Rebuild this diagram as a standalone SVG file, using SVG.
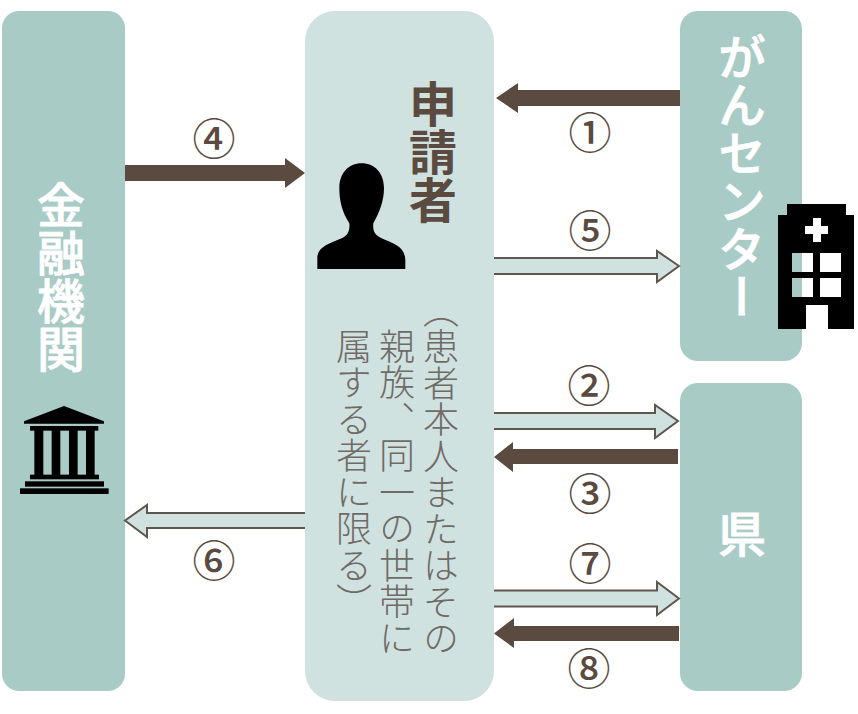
<svg xmlns="http://www.w3.org/2000/svg" width="858" height="714" viewBox="0 0 858 714">
<style>
.box{fill:#a9cbc6}
.pale{fill:#d0e2e0}
.solid{fill:#5a4a40}
.hollow{fill:#d0e2e0;stroke:#5f564f;stroke-width:2}
.t{font-family:"Noto Sans CJK JP","Noto Sans",sans-serif;writing-mode:vertical-rl}
.big{font-size:48px;font-weight:500;fill:#fff;stroke:#fff;stroke-width:.8px;text-anchor:start}
.sm{font-size:36px;font-weight:300;fill:#6f6a66;letter-spacing:.5px}
.n{font-family:"Noto Sans CJK JP",sans-serif;font-size:43px;font-weight:500;fill:#5a4a40;text-anchor:middle}
</style>
<rect width="858" height="714" fill="#fff"/>
<g id="kinyu">
<rect class="box" x="2" y="11" width="123" height="680" rx="17"/>
<text class="t big" x="61" y="181">金融機関</text>
<g transform="translate(0,390) scale(.3333)">
<path d="M192 48L312 94V101H72V94Z"/>
<rect x="90" y="108" width="205" height="14"/>
<rect x="103" y="120" width="27" height="136"/><rect x="155" y="120" width="26" height="136"/><rect x="207" y="120" width="26" height="136"/><rect x="258" y="120" width="26" height="136"/>
<rect x="90" y="254" width="207" height="14"/><rect x="75" y="274" width="237" height="16"/><rect x="60" y="295" width="266" height="17"/>
</g>
</g>
<g id="shinseisha">
<rect class="pale" x="305" y="11" width="189" height="690" rx="30"/>
<text class="t big" x="433" y="80" style="fill:#5a4a40;stroke:none;font-weight:700">申請者</text>
<path transform="translate(300,60) scale(.3333)" d="M52 627V590C55 560 90 550 125 535C145 525 150 510 148 490C125 455 118 420 118 385C118 340 145 310 185 310C225 310 252 340 252 385C252 420 240 455 220 490C218 510 222 525 245 535C280 550 315 560 316 600V627Z"/>
<text class="t sm" x="441" y="292">（患者本人またはその</text>
<text class="t sm" x="397" y="328">親族、同一の世帯に</text>
<text class="t sm" x="354" y="328">属する者に限る）</text>
</g>
<g id="gancenter">
<rect class="box" x="680" y="11" width="122" height="350" rx="18"/>
<text class="t big" x="742" y="33">がんセンター</text>
<path fill-rule="evenodd" d="M787 204H846V215H854V329H828V305H806V329H778V215H787ZM813 218V226H805V234H813V242H821V234H828V226H821V218ZM792 253V272H813V253ZM820 253V272H841V253ZM792 278V297H813V278ZM820 278V297H841V278Z"/>
</g>
<g id="ken">
<rect class="box" x="680" y="383" width="122" height="308" rx="18"/>
<text class="t big" x="742" y="510">県</text>
</g>
<g id="connectors">
<path class="solid" d="M680 90H518V83L496 98L518 113V106H680Z"/>
<path class="solid" d="M125 165H285V158L305 173L285 188V181H125Z"/>
<path class="solid" d="M678 449H513V442L494 457L513 472V464H678Z"/>
<path class="solid" d="M679 626H514V618L494 633.500L514 648V641H679Z"/>
<path class="hollow" d="M494 258H657V251L679 266L657 282V274H494"/>
<path class="hollow" d="M494 413H655V405L678 421L655 438V429H494"/>
<path class="hollow" d="M494 590.500H657V582L679 598.500L657 615V606.500H494"/>
<path class="hollow" d="M305 513H147V505L125 520.500L147 537V528H305"/>
</g>
<g id="labels">
<text class="n" x="214" y="155">④</text>
<text class="n" x="590" y="149">①</text>
<text class="n" x="590" y="247">⑤</text>
<text class="n" x="589" y="402">②</text>
<text class="n" x="590" y="510">③</text>
<text class="n" x="214" y="577">⑥</text>
<text class="n" x="590" y="580">⑦</text>
<text class="n" x="589" y="685">⑧</text>
</g>
</svg>
